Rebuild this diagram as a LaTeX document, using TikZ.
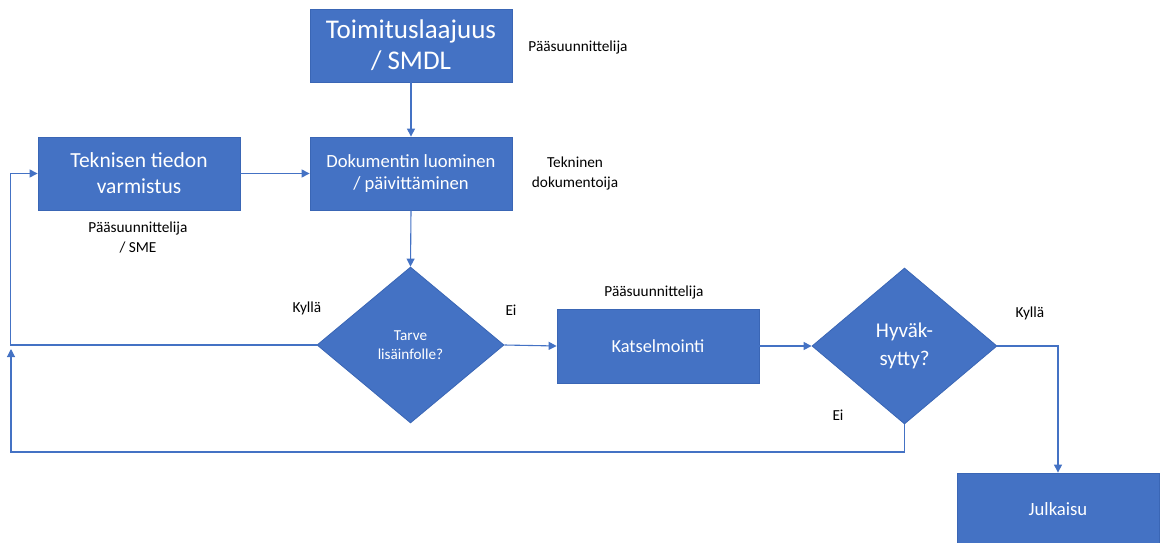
\documentclass[tikz,border=0pt]{standalone}
\usepackage{fontspec}
\setmainfont{Carlito}
\usetikzlibrary{shapes.geometric,arrows.meta}
\definecolor{office}{HTML}{4472C4}
\definecolor{officeedge}{HTML}{3A66B5}
\tikzset{
  boxnode/.style={rectangle, fill=office, draw=officeedge, line width=0.8pt, text=white, align=center, minimum width=202pt, minimum height=73pt, inner sep=0pt},
  decnode/.style={diamond, fill=office, draw=officeedge, line width=0.8pt, text=white, align=center, inner sep=0pt},
  arr/.style={draw=office, line width=1.1pt, -{Triangle[length=8pt,width=8pt]}},
  plainline/.style={draw=office, line width=1.1pt},
  lbl/.style={text=black, align=center, font=\fontsize{15.3}{20}\selectfont, inner sep=0pt}
}
\begin{document}
\begin{tikzpicture}[x=1pt,y=-1pt]
\useasboundingbox (0,0) rectangle (1160,543);
\clip (0,0) rectangle (1160,543);
% boxes
\node[boxnode, font=\fontsize{27}{31}\selectfont] (toim) at (411,45.5) {Toimituslaajuus\\/ SMDL};
\node[boxnode, font=\fontsize{18.6}{21.5}\selectfont] (doku) at (411,173.5) {Dokumentin luominen\\/ päivittäminen};
\node[boxnode, font=\fontsize{21.5}{26}\selectfont] (tekn) at (139,173.5) {Teknisen tiedon\\varmistus};
\node[boxnode, minimum height=74pt, font=\fontsize{18.4}{22}\selectfont] (kats) at (658,346) {Katselmointi};
\node[boxnode, font=\fontsize{18.7}{22}\selectfont] (julk) at (1058,509.5) {Julkaisu};
% decisions
\node[decnode, minimum width=187pt, minimum height=156pt, font=\fontsize{15.2}{19}\selectfont] (tarve) at (410.5,345) {Tarve\\lisäinfolle?};
\node[decnode, minimum width=185pt, minimum height=156pt, font=\fontsize{21}{28}\selectfont] (hyv) at (904.5,346) {Hyväk-\\sytty?};
% helper coordinates
\coordinate (lb) at (11,452);
\coordinate (lt) at (11,349);
% connectors
\draw[arr] (toim.south) -- (doku.north);
\draw[arr] (tekn.east) -- (doku.west);
\draw[arr] (doku.south) -- (tarve.north);
\draw[arr] (tarve.east) -- (kats.west);
\draw[arr] (kats.east) -- (hyv.west);
\draw[arr] (hyv.east) -| (julk.north);
\draw[arr] (tarve.west) -| ([xshift=-27pt]tekn.west) -- (tekn.west);
\draw[arr] (hyv.south) |- (lb) -- (lt);
% labels
\node[lbl] (l1) at (578,47) {Pääsuunnittelija};
\node[lbl] (l2) at (575,173) {Tekninen\\dokumentoija};
\node[lbl] (l3) at (138,238) {Pääsuunnittelija\\/ SME};
\node[lbl] (l4) at (307,308) {Kyllä};
\node[lbl] (l5) at (511,310) {Ei};
\node[lbl] (l6) at (654,292) {Pääsuunnittelija};
\node[lbl] (l7) at (1030,313) {Kyllä};
\node[lbl] (l8) at (838,415) {Ei};
\end{tikzpicture}
\end{document}
